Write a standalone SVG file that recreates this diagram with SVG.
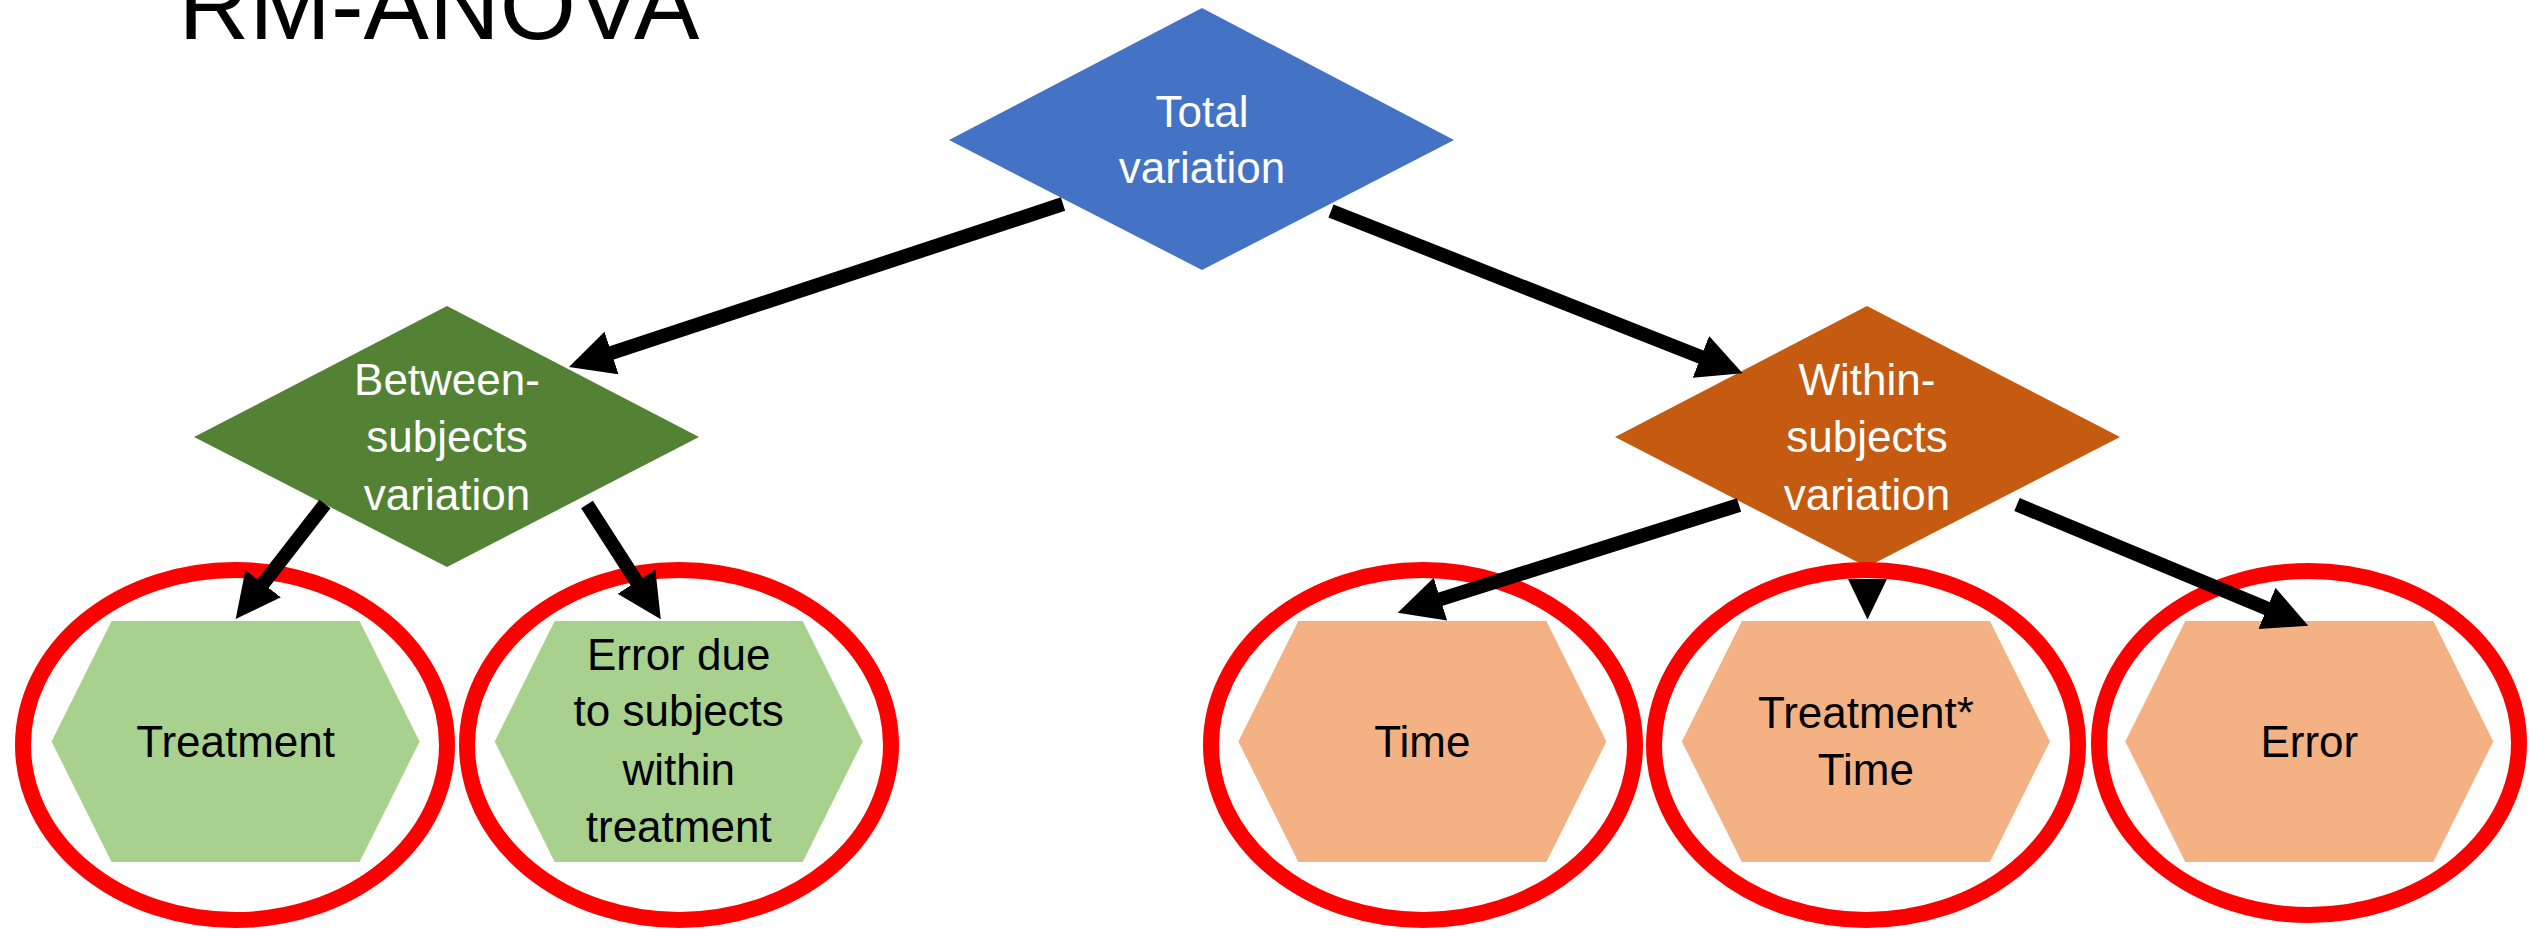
<svg xmlns="http://www.w3.org/2000/svg" width="2530" height="929" viewBox="0 0 2530 929">
  <style>
    .lbl { font-family: "Liberation Sans", Arial, sans-serif; font-size: 44px; text-anchor: middle; }
    .light { fill: #FFFFFF; }
    .dark { fill: #000000; }
    .title { font-family: "Liberation Sans", Arial, sans-serif; font-size: 98px; text-anchor: middle; fill: #000000; }
    .hex-green { fill: #A9D18E; }
    .hex-orange { fill: #F4B183; }
    .ring { fill: none; stroke: #FF0000; stroke-width: 16; }
    .edge { fill: none; stroke: #000000; stroke-width: 14; stroke-linecap: butt; marker-end: url(#head); }
  </style>
  <defs>
    <marker id="head" viewBox="0 0 3.2 3.2" markerUnits="strokeWidth" markerWidth="3.2" markerHeight="3.2" refX="0.1" refY="1.6" orient="auto">
      <path d="M0,0 L3.2,1.6 L0,3.2 z" fill="#000000"/>
    </marker>
    <polygon id="hex" points="-184,0 -124,-120.5 124,-120.5 184,0 124,120.5 -124,120.5"/>
  </defs>

  <rect width="2530" height="929" fill="#FFFFFF"/>

  <text class="title" x="439" y="39">RM-ANOVA</text>

  <!-- decision diamonds -->
  <g id="total">
    <polygon points="1202,8 1454,140 1202,270 949,140" fill="#4472C4"/>
    <text class="lbl light" x="1202" y="127">Total</text>
    <text class="lbl light" x="1202" y="183">variation</text>
  </g>

  <g id="between">
    <polygon points="447,306 699,437 447,567 194,437" fill="#548235"/>
    <text class="lbl light" x="447" y="395">Between-</text>
    <text class="lbl light" x="447" y="452">subjects</text>
    <text class="lbl light" x="447" y="510">variation</text>
  </g>

  <g id="within">
    <polygon points="1867,306 2120,437 1867,567 1615,437" fill="#C55A11"/>
    <text class="lbl light" x="1867" y="395">Within-</text>
    <text class="lbl light" x="1867" y="452">subjects</text>
    <text class="lbl light" x="1867" y="510">variation</text>
  </g>

  <!-- outcome hexagons, each circled in red -->
  <g id="treatment">
    <use href="#hex" class="hex-green" transform="translate(235.6,741.5)"/>
    <ellipse class="ring" cx="235" cy="745" rx="212" ry="175"/>
    <text class="lbl dark" x="235.6" y="757">Treatment</text>
  </g>

  <g id="subject-error">
    <use href="#hex" class="hex-green" transform="translate(678.7,741.5)"/>
    <ellipse class="ring" cx="679" cy="745" rx="212" ry="175"/>
    <text class="lbl dark" x="678.7" y="670">Error due</text>
    <text class="lbl dark" x="678.7" y="726">to subjects</text>
    <text class="lbl dark" x="678.7" y="785">within</text>
    <text class="lbl dark" x="678.7" y="842">treatment</text>
  </g>

  <g id="time">
    <use href="#hex" class="hex-orange" transform="translate(1422.4,741.5)"/>
    <ellipse class="ring" cx="1423" cy="745" rx="212" ry="175"/>
    <text class="lbl dark" x="1422.4" y="757">Time</text>
  </g>

  <g id="treatment-time">
    <use href="#hex" class="hex-orange" transform="translate(1865.9,741.5)"/>
    <ellipse class="ring" cx="1866" cy="745" rx="212" ry="175"/>
    <text class="lbl dark" x="1865.9" y="728">Treatment*</text>
    <text class="lbl dark" x="1865.9" y="785">Time</text>
  </g>

  <g id="error">
    <use href="#hex" class="hex-orange" transform="translate(2309.3,741.5)"/>
    <ellipse class="ring" cx="2309" cy="743" rx="210" ry="172"/>
    <text class="lbl dark" x="2309.3" y="757">Error</text>
  </g>

  <!-- connectors -->
  <g id="connectors">
    <line class="edge" x1="1063" y1="204" x2="610.2" y2="353.4"/>
    <line class="edge" x1="1331" y1="211" x2="1702.2" y2="357.4"/>
    <line class="edge" x1="325" y1="504" x2="262.3" y2="584.7"/>
    <line class="edge" x1="587" y1="504.5" x2="637.3" y2="582.8"/>
    <line class="edge" x1="1739" y1="505" x2="1439.1" y2="599.6"/>
    <polygon points="1848,579 1887,579 1867.5,619.5" fill="#000000"/>
    <line class="edge" x1="2017" y1="504.5" x2="2268.2" y2="609"/>
  </g>
</svg>
